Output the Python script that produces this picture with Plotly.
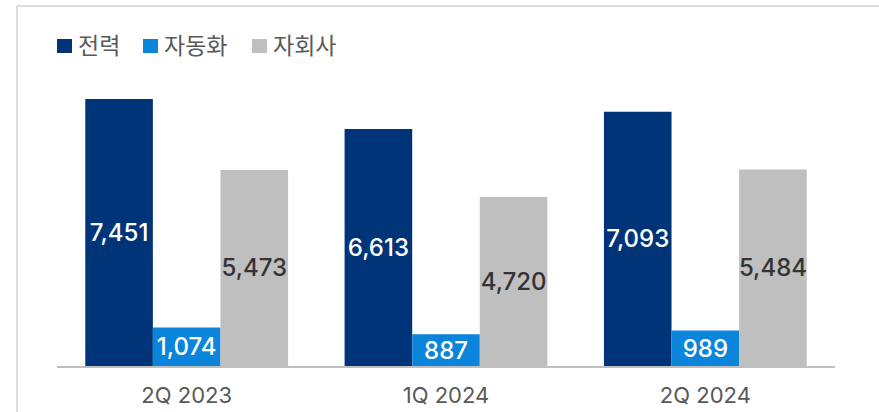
import plotly.graph_objects as go

categories = ["2Q 2023", "1Q 2024", "2Q 2024"]
series_names = ["전력", "자동화", "자회사"]
power = [7451, 6613, 7093]
automation = [1074, 887, 989]
subsidiary = [5473, 4720, 5484]

colors = ["#003478", "#0B84DC", "#BFBFBF"]
text_colors = ["#FFFFFF", "#FFFFFF", "#333333"]

W, H = 879, 412
L, R, T, B = 57, 44, 60, 46
PW, PH = W - L - R, H - T - B
FONT = "Inter, Noto Sans CJK KR, sans-serif"

def px_x(x):
    return (x - L) / PW

def px_y(y):
    return (H - B - y) / PH

fig = go.Figure()
for name, vals, c, tc in zip(series_names, [power, automation, subsidiary], colors, text_colors):
    fig.add_trace(go.Bar(
        x=categories, y=vals, name=name,
        marker=dict(color=c, line=dict(width=0)),
        text=[f"{v:,}" for v in vals],
        textposition="inside", insidetextanchor="middle", textangle=0,
        textfont=dict(color=tc, size=24, family=FONT, weight=500),
        showlegend=False,
    ))

shapes = [
    dict(type="line", xref="paper", yref="paper", x0=px_x(17), x1=px_x(W + 5),
         y0=px_y(6), y1=px_y(6), line=dict(color="#D0D0D0", width=1.5)),
    dict(type="line", xref="paper", yref="paper", x0=px_x(17), x1=px_x(17),
         y0=px_y(6), y1=px_y(H + 5), line=dict(color="#D0D0D0", width=1.5)),
]
annotations = []
legend_x = [57, 143, 252]
for lx, name, c in zip(legend_x, series_names, colors):
    shapes.append(dict(type="rect", xref="paper", yref="paper",
                       x0=px_x(lx), x1=px_x(lx + 15), y0=px_y(39), y1=px_y(53),
                       fillcolor=c, line=dict(width=0)))
    annotations.append(dict(xref="paper", yref="paper", x=px_x(lx + 19), y=px_y(46),
                            text=name, showarrow=False, xanchor="left", yanchor="middle",
                            font=dict(size=23, color="#595959", family=FONT)))

fig.update_layout(
    width=W, height=H,
    margin=dict(l=L, r=R, t=T, b=B, autoexpand=False),
    barmode="group", bargap=0.218, bargroupgap=0,
    plot_bgcolor="white", paper_bgcolor="white",
    uniformtext=dict(minsize=24, mode="show"),
    shapes=shapes, annotations=annotations,
    showlegend=False,
)
fig.update_xaxes(showline=True, linecolor="#BFBFBF", linewidth=1.5, ticks="",
                 ticklabelstandoff=9, automargin=False,
                 tickfont=dict(size=22, color="#595959", family=FONT), showgrid=False)
fig.update_yaxes(range=[0, PH / 0.03583], visible=False, showgrid=False, automargin=False)

fig.write_html("out.html", config={"displayModeBar": False},
               post_script="document.body.style.margin='0';document.body.style.overflow='hidden';")
